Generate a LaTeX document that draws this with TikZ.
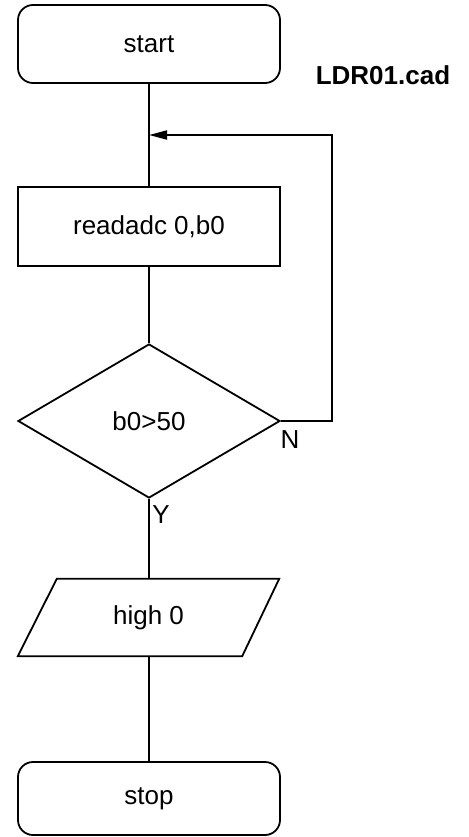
\documentclass[tikz,border=0pt]{standalone}
\usepackage{fontspec}
\setmainfont{Liberation Sans}
\usetikzlibrary{arrows.meta,shapes.geometric}
\begin{document}
\begin{tikzpicture}[x=1pt,y=-1pt,
  every node/.style={font=\fontsize{26}{30}\selectfont, inner sep=0pt},
  ln/.style={line width=1.8pt},
  term/.style={draw, ln, rounded corners=15pt, minimum width=262pt, minimum height=78pt},
  proc/.style={draw, ln, minimum width=262pt, minimum height=79pt},
  dec/.style={draw, ln, diamond, minimum width=262pt, minimum height=154pt},
  io/.style={minimum width=261pt, minimum height=77pt},
  lbl/.style={font=\fontsize{26}{30}\selectfont}
]
\useasboundingbox (0,0) rectangle (468,837);
\node[term] (start) at (149,44) {start};
\node[lbl, font=\fontsize{26}{30}\selectfont\bfseries] (title) at (383,75) {LDR01.cad};
\node[proc] (read) at (149,226.5) {readadc 0,b0};
\node[dec] (dec) at (149,421) {b0>50};
\node[io] (par) at (148.5,617.5) {high 0};
\draw[ln] ([xshift=39pt]par.north west) -- (par.north east) -- ([xshift=-37pt]par.south east) -- (par.south west) -- cycle;
\node[term, minimum height=73pt] (stop) at (149,798.5) {stop};
\node[lbl] (n) at (290,440) {N};
\node[lbl] (y) at (161,515) {Y};
\coordinate (j) at (149,135);
\coordinate (c1) at (332,135);
\draw[ln] (start.south) -- (read.north);
\draw[ln] (read.south) -- (dec.north);
\draw[ln] (dec.south) -- (dec.south |- par.north);
\draw[ln] (par.south -| stop.north) -- (stop.north);
\draw[ln, -{Triangle[length=18pt,width=9pt]}] (dec.east) -| (c1) -- (j);
\end{tikzpicture}
\end{document}
